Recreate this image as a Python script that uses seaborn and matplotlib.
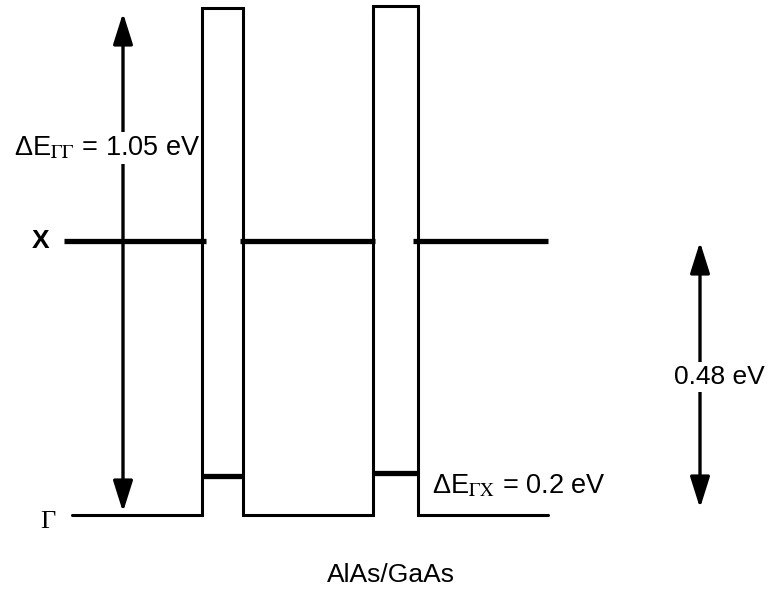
import numpy as np
import pandas as pd
import matplotlib
matplotlib.use("Agg")
import matplotlib.pyplot as plt
import seaborn as sns

sns.set_style("white")
plt.rcParams['font.family'] = ['Liberation Sans', 'DejaVu Sans']
plt.rcParams['mathtext.fontset'] = 'stix'
plt.rcParams['text.color'] = 'black'

# band diagram data (diagram units: x = position, y = energy height)
interfaces = [72, 202, 243, 373, 418, 548]
gamma_edge = 89
barrier_top = [596, 598]
x_edge = 363
x_starts = [64, 240, 413]
x_ends = [206, 375, 548]
gx_level = [128, 131]

# arrows: x, top, bottom
arrow_left = [123, 591, 92]
arrow_right = [700, 362, 96]

label_gg = "ΔE$_{\\Gamma\\Gamma}$ = 1.05 eV"
label_gx = "ΔE$_{\\Gamma \\mathrm{X}}$ = 0.2 eV"
label_gap = "0.48 eV"
label_struct = "AlAs/GaAs"

# Gamma profile: wells at gamma_edge, barriers up to barrier_top
prof_x = [interfaces[0], interfaces[1], interfaces[1], interfaces[2], interfaces[2],
          interfaces[3], interfaces[3], interfaces[4], interfaces[4], interfaces[5]]
prof_y = [gamma_edge, gamma_edge, barrier_top[0], barrier_top[0], gamma_edge,
          gamma_edge, barrier_top[1], barrier_top[1], gamma_edge, gamma_edge]
profile = pd.DataFrame({"x": prof_x, "y": prof_y})

x_lines = pd.DataFrame({
    "x": [v for pair in zip(x_starts, x_ends) for v in pair],
    "y": [x_edge] * (2 * len(x_starts)),
    "seg": [i for i in range(len(x_starts)) for _ in range(2)],
})

gx_lines = pd.DataFrame({
    "x": [interfaces[1], interfaces[2], interfaces[3], interfaces[4]],
    "y": [gx_level[0], gx_level[0], gx_level[1], gx_level[1]],
    "seg": [0, 0, 1, 1],
})

fig = plt.figure(figsize=(7.69, 6.04), dpi=100)
ax = fig.add_axes([0, 0, 1, 1])

# profile drawn above the label boxes so the barrier edge stays intact
sns.lineplot(data=profile, x="x", y="y", sort=False, estimator=None,
             color="black", lw=2.2, solid_joinstyle="miter", zorder=6, ax=ax)
sns.lineplot(data=x_lines, x="x", y="y", units="seg", estimator=None,
             color="black", lw=3.8, solid_capstyle="butt", ax=ax)
sns.lineplot(data=gx_lines, x="x", y="y", units="seg", estimator=None,
             color="black", lw=3.8, solid_capstyle="butt", ax=ax)

astyle = "<|-|>,head_length=0.95,head_width=0.3"
for a in [arrow_left, arrow_right]:
    ax.annotate("", xy=(a[0], a[1]), xytext=(a[0], a[2]),
                arrowprops=dict(arrowstyle=astyle, mutation_scale=20, lw=2.4,
                                color="black", shrinkA=0, shrinkB=0))

box = dict(facecolor="white", edgecolor="none", pad=2)
ax.text(14, 449, label_gg, fontsize=19.5, ha="left", va="baseline", bbox=box, zorder=5)
ax.text(719, 220, label_gap, fontsize=19, ha="center", va="baseline", bbox=box, zorder=5)
ax.text(432, 111, label_gx, fontsize=19.5, ha="left", va="baseline", zorder=5)
ax.text(41, 356, "X", fontsize=19, fontweight="bold", ha="center", va="baseline")
ax.text(48, 76, "Γ", fontsize=19, family=["Liberation Serif"], ha="center", va="baseline")
ax.text(391, 22, label_struct, fontsize=19, ha="center", va="baseline")

ax.set_xlim(0, 769)
ax.set_ylim(0, 604)
ax.set_axis_off()

fig.savefig("out.png", dpi=100)
